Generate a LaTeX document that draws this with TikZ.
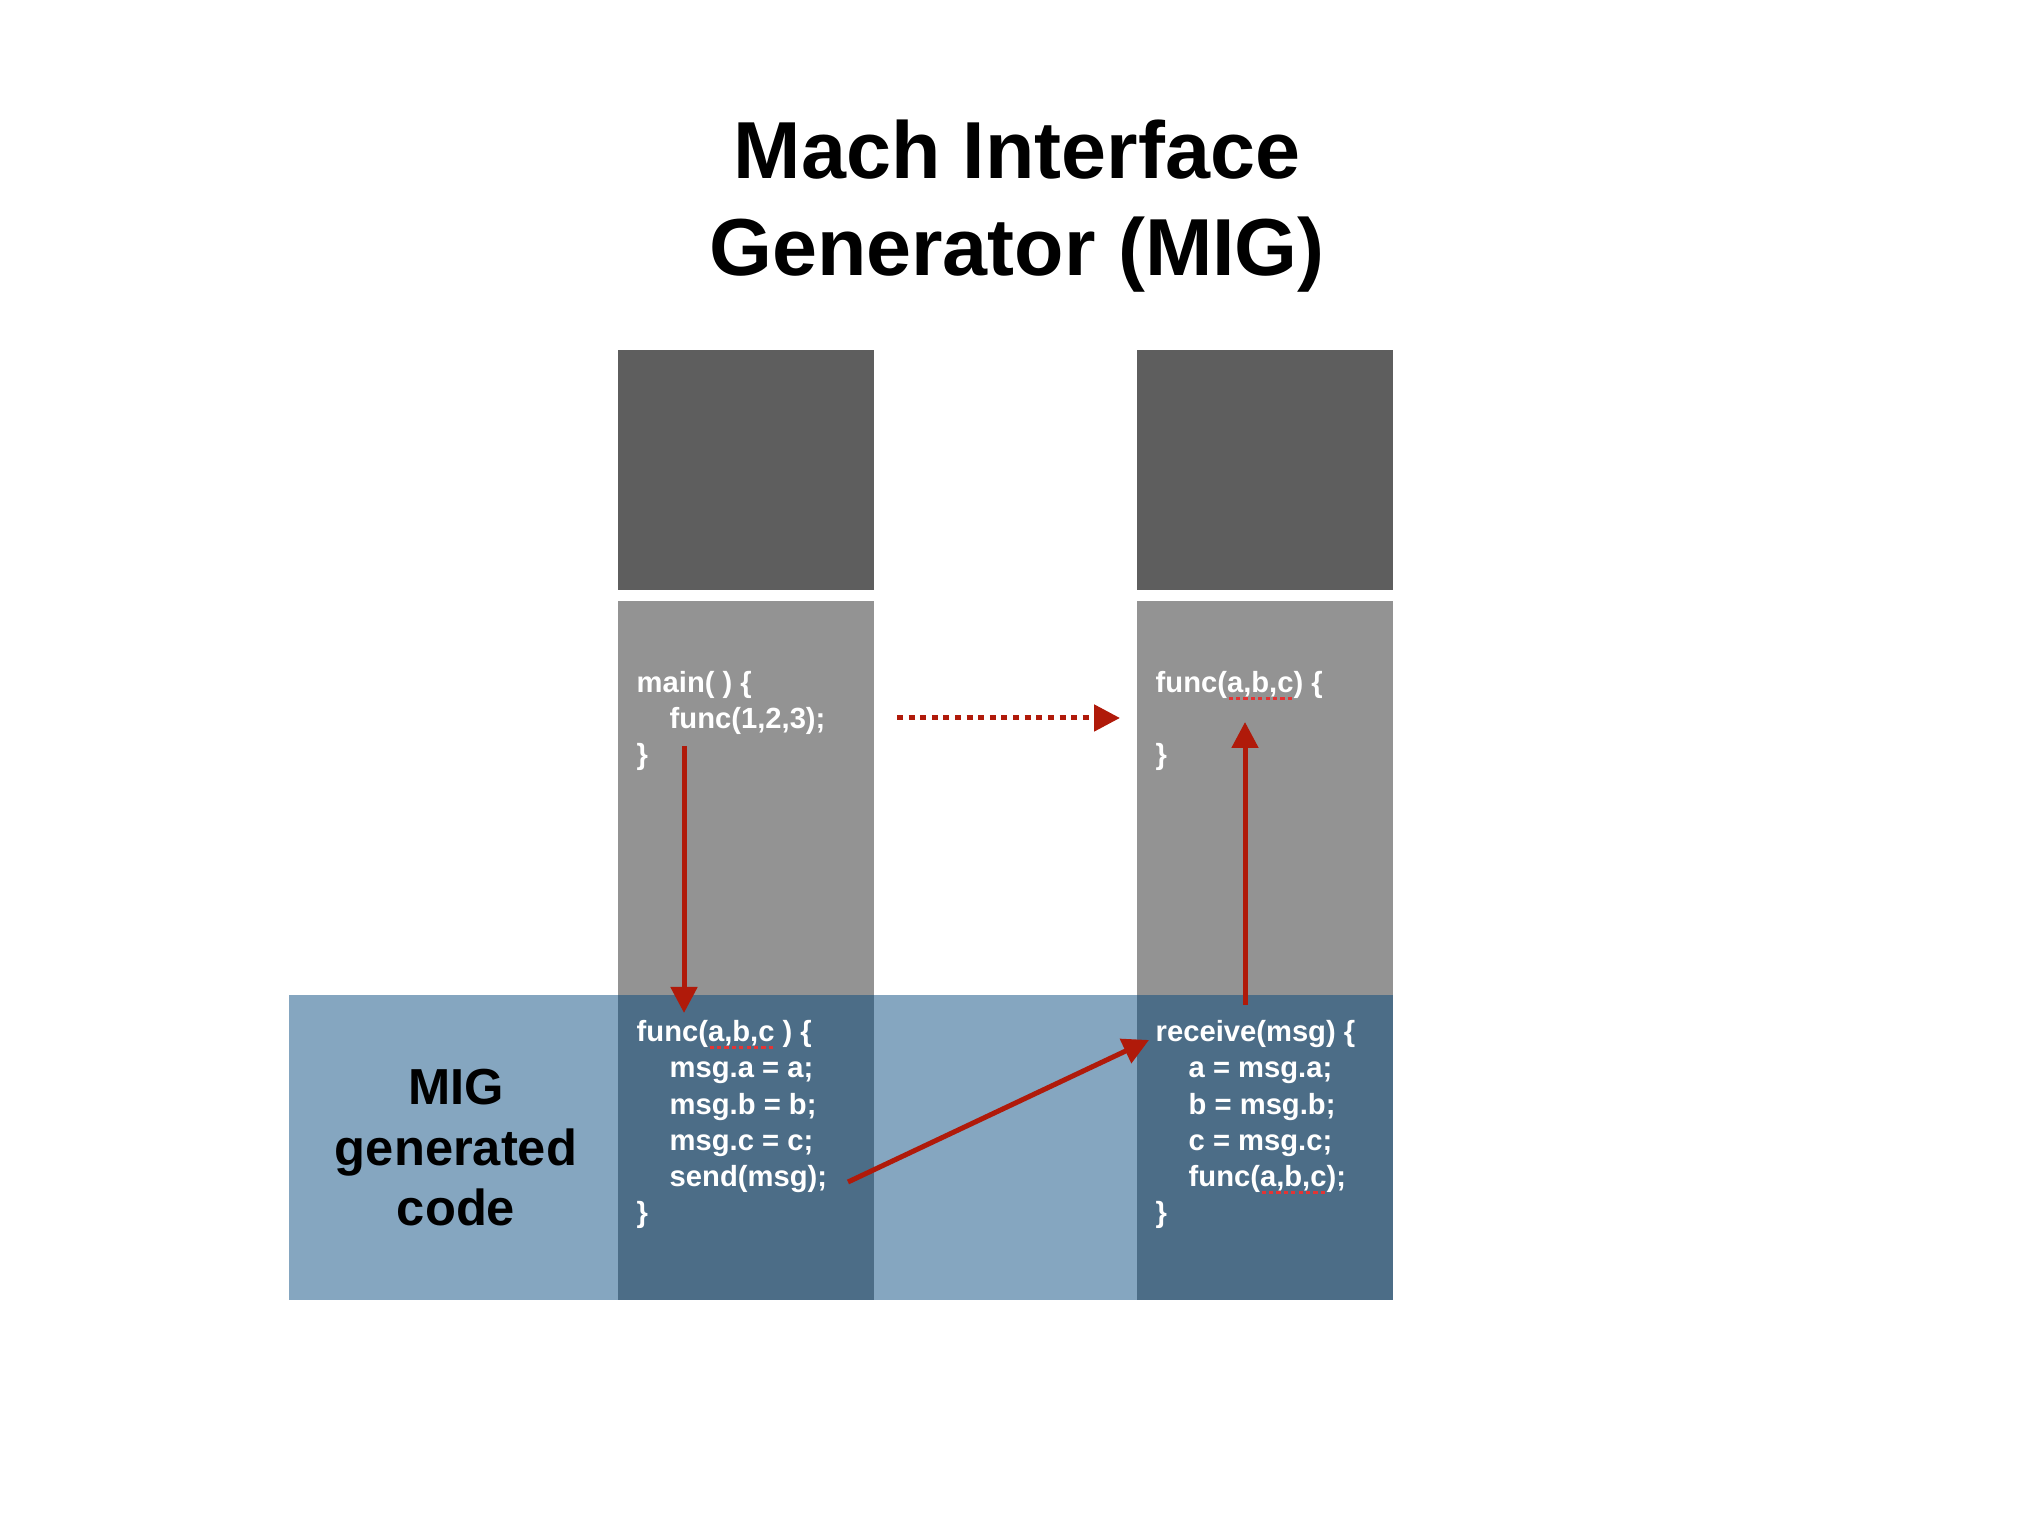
\documentclass[tikz,border=0pt]{standalone}
\usepackage{fontspec}
\setmainfont{Liberation Sans}
\usepackage{tikz}
\usepackage{xcolor}
\usetikzlibrary{shapes, positioning, arrows.meta}

\definecolor{stackdark}{RGB}{94,94,94}
\definecolor{stacklight}{RGB}{147,147,147}
\definecolor{migblue}{RGB}{0,68,124}
\definecolor{callred}{RGB}{176,26,10}
\definecolor{spellred}{RGB}{228,52,52}

\newcommand{\titlefont}{\fontsize{23}{27.6}\selectfont\bfseries}
\newcommand{\labelfont}{\fontsize{14.4}{17.2}\selectfont\bfseries}
\newcommand{\codefont}{\fontsize{8.3}{10.33}\selectfont\bfseries}
\newcommand{\tab}{\hspace*{3.3mm}}
\newsavebox{\spellbox}
\newcommand{\spellmark}[1]{\sbox{\spellbox}{#1}\rlap{\color{spellred}\raisebox{-2.2pt}{\hbox to \wd\spellbox{\leaders\hbox to 2.1pt{\hss\rule{1.2pt}{1pt}\hss}\hfill}}}\usebox{\spellbox}}

\tikzset{
        kernelbox/.style={rectangle, fill=stackdark, inner sep=0pt, minimum width=2.56cm, minimum height=2.4cm},
        userbox/.style={rectangle, fill=stacklight, inner sep=0pt, minimum width=2.56cm, minimum height=6.99cm},
        migband/.style={rectangle, fill=migblue, fill opacity=0.48, inner sep=0pt, minimum width=11.04cm, minimum height=3.05cm},
        code/.style={anchor=base west, align=left, inner sep=0pt, text=white, font=\codefont},
        call/.style={draw=callred, line width=0.05cm, -{Triangle[length=2.6mm, width=2.6mm]}},
        msgcall/.style={call, dash pattern=on 0.06cm off 0.056cm}
}

\begin{document}
\begin{tikzpicture}[x=0.01cm, y=0.01cm]
        \useasboundingbox (0, 0) rectangle (2022, 1516);

        \node[font=\titlefont, align=center, anchor=base] at (1017, 1240) (title) {Mach Interface\\Generator (MIG)};

        % the two tasks
        \node[kernelbox] at (746, 1046) (sendkernel) {};
        \node[kernelbox] at (1265, 1046) (recvkernel) {};
        \node[userbox] at (746, 565.5) (senduser) {};
        \node[userbox] at (1265, 565.5) (recvuser) {};

        % generated stubs
        \node[migband] at (841, 368.5) (band) {};
        \node[font=\labelfont, align=center] at (456, 368) (miglabel) {MIG\\generated\\code};

        \node[code] at (636, 751) (maincode) {main( ) \{\\\tab func(1,2,3);\\\}};
        \node[code] at (1155, 751) (funccode) {func(\spellmark{a,b,c}) \{\\[10.33pt]\}};
        \node[code] at (636, 293) (sendstub) {func(\spellmark{a,b,c} ) \{\\\tab msg.a = a;\\\tab msg.b = b;\\\tab msg.c = c;\\\tab send(msg);\\\}};
        \node[code] at (1155, 293) (recvstub) {receive(msg) \{\\\tab a = msg.a;\\\tab b = msg.b;\\\tab c = msg.c;\\\tab func(\spellmark{a,b,c});\\\}};

        \coordinate (callfrom) at (684, 770);
        \coordinate (callto) at (684, 503);
        \coordinate (sendfrom) at (848, 334);
        \coordinate (sendto) at (1149, 476);
        \coordinate (upcallfrom) at (1245, 511);
        \coordinate (upcallto) at (1245, 794);
        \coordinate (rpcfrom) at (897, 798);
        \coordinate (rpcto) at (1120, 798);

        \draw[call] (callfrom) to (callto);
        \draw[call] (sendfrom) to (sendto);
        \draw[call] (upcallfrom) to (upcallto);
        \draw[msgcall] (rpcfrom) to (rpcto);
\end{tikzpicture}
\end{document}
